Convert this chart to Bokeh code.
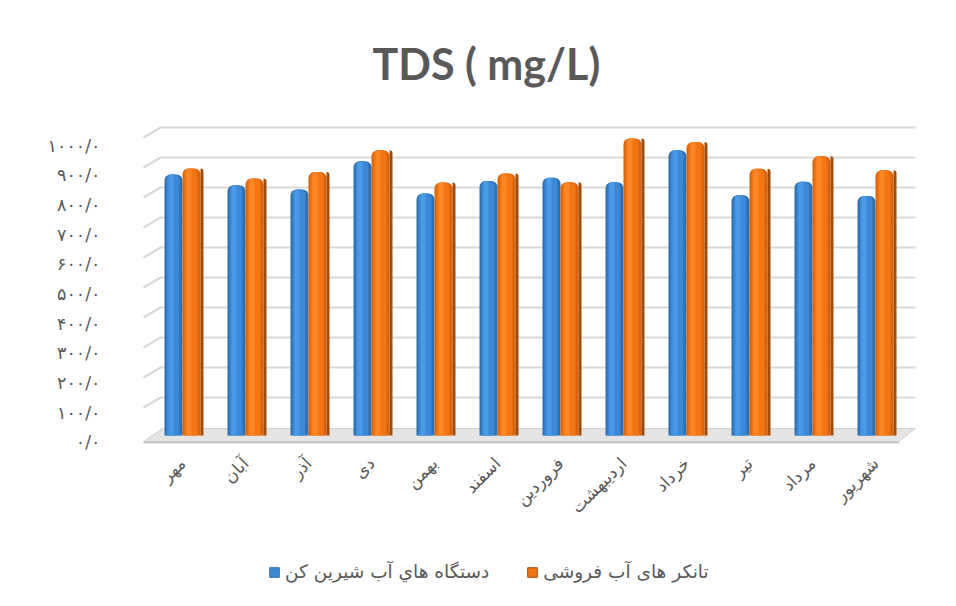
from bokeh.plotting import figure
from bokeh.layouts import column
from bokeh.models import (ColumnDataSource, Range1d, LinearAxis, FixedTicker,
                          Legend, LegendItem, Title)
from bokeh.transform import dodge
from bokeh.embed import file_html
from bokeh.resources import INLINE

# ---------------- data ----------------
months = ["مهر", "آبان", "آذر", "دی", "بهمن", "اسفند",
          "فروردین", "اردیبهشت", "خرداد", "تیر", "مرداد", "شهریور"]
desal = [870, 834, 820, 914, 807, 848, 859, 844, 951, 801, 846, 798]
tanker = [890, 857, 878, 951, 843, 873, 844, 990, 978, 889, 931, 884]
y_ticks = [0, 100, 200, 300, 400, 500, 600, 700, 800, 900, 1000]
y_tick_labels = ["۰/۰", "۱۰۰/۰", "۲۰۰/۰", "۳۰۰/۰", "۴۰۰/۰", "۵۰۰/۰",
                 "۶۰۰/۰", "۷۰۰/۰", "۸۰۰/۰", "۹۰۰/۰", "۱۰۰۰/۰"]
series_names = ["دستگاه هاي آب شيرين کن", "تانکر های آب فروشی"]
title_text = "TDS ( mg/L)"

# ---------------- geometry (pixels) ----------------
W = 956
H1, H2 = 545, 61
FRAME_L, FRAME_T = 140, 120
FRAME_W, FRAME_H = 795, 325
PX_CAT = 63.0      # pixels per category
PX_UNIT = 0.3      # pixels per value unit
X0_PX = 42.0       # frame left -> first category centre
Y0_PX = 10.0       # frame bottom -> bar base
LAB0, LABS = 3.3, 0.2967   # front-edge scale used by the value labels

x_start = -X0_PX / PX_CAT
y_start = -Y0_PX / PX_UNIT
x_end = x_start + FRAME_W / PX_CAT
y_end = y_start + FRAME_H / PX_UNIT

def dx(px):
    return x_start + px / PX_CAT

def dy(px):
    return y_start + px / PX_UNIT

TEXT = "#595959"
FONT = "DejaVu Sans"
BLUE = ("#2f6fae", "#3b89d6", "#4f9fe8")
ORANGE = ("#d9640c", "#f27614", "#ff8c2b", "#a04c0a")

p = figure(width=W, height=H1, output_backend="svg", toolbar_location=None,
           x_range=Range1d(x_start, x_end), y_range=Range1d(y_start, y_end),
           x_axis_location=None, y_axis_location=None,
           min_border_left=FRAME_L, min_border_top=FRAME_T,
           min_border_right=W - FRAME_L - FRAME_W,
           min_border_bottom=H1 - FRAME_T - FRAME_H)
p.outline_line_color = None
p.grid.visible = False
p.background_fill_color = "white"
p.border_fill_color = "white"

# ---------------- walls & floor (decoration) ----------------
BACK_L, BACK_R, SIDE_F = 20, 775, 3          # px from frame left
BACK_BASE, SIDE_BASE = 18, 8                 # px above frame bottom for value 0
grid_vals = y_ticks[1:]
gx, gy = [], []
for g in grid_vals:
    yb = dy(BACK_BASE + g * PX_UNIT)
    yf = dy(SIDE_BASE + g * PX_UNIT)
    gx.append([dx(SIDE_F), dx(BACK_L), dx(BACK_R)])
    gy.append([yf, yb, yb])
p.multi_line(gx, gy, line_color="#d9d9d9", line_width=2.2)

floor_x = [dx(3), dx(758), dx(775), dx(22)]
floor_y = [dy(4), dy(4), dy(17), dy(17)]
p.patch(floor_x, floor_y, fill_color="#d9d9d9", line_color="#d0d0d0",
        hatch_pattern="/", hatch_color="#efefef", hatch_scale=5, hatch_weight=1.2)
p.patch([dx(3), dx(758), dx(759), dx(3)], [dy(4), dy(4), dy(2), dy(2)],
        fill_color="#c4c4c4", line_color=None)

# ---------------- bars ----------------
src = ColumnDataSource(dict(x=list(range(len(months))), desal=desal, tanker=tanker))
BW = 18.0
OFF = 9.0

def bar(field, centre_px, edge, body, light, side=None):
    r = p.vbar(x=dodge("x", centre_px / PX_CAT, range=p.x_range), width=BW / PX_CAT,
               top=field, bottom=0, source=src, fill_color=edge, line_color=None,
               border_radius=(6, 6, 0, 0))
    p.vbar(x=dodge("x", (centre_px - 0.5) / PX_CAT, range=p.x_range), width=(BW - 5) / PX_CAT,
           top=field, bottom=0, source=src, fill_color=body, line_color=None,
           border_radius=(5, 5, 0, 0))
    p.vbar(x=dodge("x", (centre_px - 2.5) / PX_CAT, range=p.x_range), width=5 / PX_CAT,
           top=field, bottom=0, source=src, fill_color=light, line_color=None,
           fill_alpha=0.8, border_radius=(2, 2, 0, 0))
    if side:
        p.vbar(x=dodge("x", (centre_px + BW / 2 + 1.5) / PX_CAT, range=p.x_range),
               width=3 / PX_CAT, top=field, bottom=0, source=src,
               fill_color=side, line_color=None, border_radius=(0, 3, 0, 0))
    return r

bar("desal", -OFF, *BLUE)
bar("tanker", OFF, *ORANGE[:3], side=ORANGE[3])

# ---------------- axes ----------------
p.extra_y_ranges = {"lab": Range1d(-LAB0 / LABS, (FRAME_H - LAB0) / LABS)}
yax = LinearAxis(y_range_name="lab", ticker=FixedTicker(ticks=y_ticks),
                 major_label_overrides={t: s for t, s in zip(y_ticks, y_tick_labels)})
yax.axis_line_color = None
yax.major_tick_line_color = None
yax.minor_tick_line_color = None
yax.major_tick_out = 0
yax.major_tick_in = 0
yax.minor_tick_out = 0
yax.major_label_standoff = 40
yax.major_label_text_font = FONT
yax.major_label_text_font_size = "17.5px"
yax.major_label_text_color = TEXT
p.add_layout(yax, "left")

xax = LinearAxis(ticker=FixedTicker(ticks=list(range(len(months)))),
                 major_label_overrides={i: m for i, m in enumerate(months)})
xax.axis_line_color = None
xax.major_tick_line_color = None
xax.minor_tick_line_color = None
xax.major_tick_out = 0
xax.major_tick_in = 0
xax.minor_tick_out = 0
xax.major_label_orientation = 0.785
xax.major_label_standoff = 15
xax.major_label_text_font = FONT
xax.major_label_text_font_size = "17px"
xax.major_label_text_color = TEXT
p.add_layout(xax, "below")

# ---------------- title ----------------
p.title = Title(text=title_text, align="left", offset=232, standoff=63,
                text_font="Lato", text_font_style="bold", text_font_size="43px",
                text_color=TEXT)

# ---------------- legend strip ----------------
q = figure(width=W, height=H2, output_backend="svg", toolbar_location=None,
           x_range=Range1d(0, 1), y_range=Range1d(0, 1),
           x_axis_location=None, y_axis_location=None,
           min_border_left=0, min_border_right=0, min_border_top=0, min_border_bottom=0)
q.outline_line_color = None
q.grid.visible = False
q.border_fill_color = "white"
# legend-key renderers (hidden; only their legend swatches are shown)
lb = q.vbar(x=[0.5], bottom=[0], top=[1], width=0.1, fill_color=BLUE[1],
            line_color=BLUE[0], line_width=1, visible=False)
lo = q.vbar(x=[0.5], bottom=[0], top=[1], width=0.1, fill_color=ORANGE[1],
            line_color=ORANGE[3], line_width=1, visible=False)
legend = Legend(items=[LegendItem(label=series_names[0], renderers=[lb]),
                       LegendItem(label=series_names[1], renderers=[lo])],
                orientation="horizontal", location=(128, 24), margin=0, padding=8,
                glyph_width=12, glyph_height=12, label_standoff=5, spacing=37,
                label_text_font=FONT, label_text_font_size="18.5px",
                label_text_color=TEXT, border_line_color=None,
                background_fill_alpha=0, inactive_fill_alpha=0)
q.add_layout(legend, "center")

layout = column(p, q, spacing=0)
open("out.html", "w").write(file_html(layout, INLINE))
